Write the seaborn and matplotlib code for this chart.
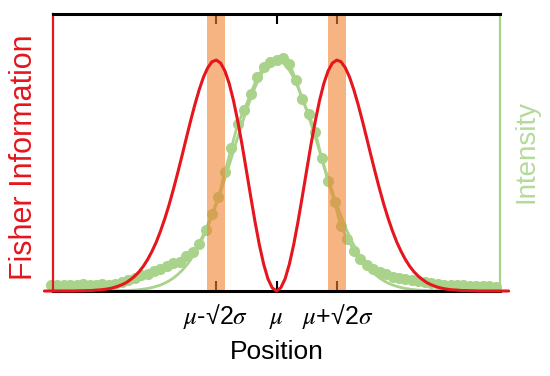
import matplotlib
matplotlib.use("Agg")
import matplotlib.pyplot as plt
import seaborn as sns

# positions in units of sigma, centred on mu (step 0.1)
curve_pos = [-5.4, -5.3, -5.2, -5.1, -5.0, -4.9, -4.8, -4.7, -4.6, -4.5, -4.4, -4.3, -4.2, -4.1,
             -4.0, -3.9, -3.8, -3.7, -3.6, -3.5, -3.4, -3.3, -3.2, -3.1, -3.0, -2.9, -2.8, -2.7,
             -2.6, -2.5, -2.4, -2.3, -2.2, -2.1, -2.0, -1.9, -1.8, -1.7, -1.6, -1.5, -1.4, -1.3,
             -1.2, -1.1, -1.0, -0.9, -0.8, -0.7, -0.6, -0.5, -0.4, -0.3, -0.2, -0.1,
             0.0, 0.1, 0.2, 0.3, 0.4, 0.5, 0.6, 0.7, 0.8, 0.9, 1.0, 1.1, 1.2, 1.3, 1.4, 1.5,
             1.6, 1.7, 1.8, 1.9, 2.0, 2.1, 2.2, 2.3, 2.4, 2.5, 2.6, 2.7, 2.8, 2.9, 3.0, 3.1,
             3.2, 3.3, 3.4, 3.5, 3.6, 3.7, 3.8, 3.9, 4.0, 4.1, 4.2, 4.3, 4.4, 4.5, 4.6, 4.7,
             4.8, 4.9, 5.0, 5.1, 5.2, 5.3, 5.4]

fisher_info = [0.0, 0.0, 0.0, 0.0, 0.0, 0.0, 0.0, 0.0, 0.001, 0.001, 0.002, 0.002, 0.004, 0.005,
               0.007, 0.010, 0.014, 0.020, 0.027, 0.036, 0.049, 0.064, 0.083, 0.107, 0.136, 0.171,
               0.211, 0.259, 0.313, 0.373, 0.440, 0.511, 0.585, 0.661, 0.736, 0.807, 0.871, 0.926,
               0.967, 0.993, 1.000, 0.987, 0.953, 0.898, 0.824, 0.734, 0.632, 0.521, 0.409, 0.300,
               0.201, 0.117, 0.053, 0.014,
               0.0, 0.014, 0.053, 0.117, 0.201, 0.300, 0.409, 0.521, 0.632, 0.734, 0.824, 0.898,
               0.953, 0.987, 1.000, 0.993, 0.967, 0.926, 0.871, 0.807, 0.736, 0.661, 0.585, 0.511,
               0.440, 0.373, 0.313, 0.259, 0.211, 0.171, 0.136, 0.107, 0.083, 0.064, 0.049, 0.036,
               0.027, 0.020, 0.014, 0.010, 0.007, 0.005, 0.004, 0.002, 0.002, 0.001, 0.001, 0.0,
               0.0, 0.0, 0.0, 0.0, 0.0, 0.0, 0.0]

gauss_fit = [0.0, 0.0, 0.0, 0.0, 0.0, 0.0, 0.0, 0.0, 0.0, 0.0, 0.0, 0.0, 0.0, 0.0,
             0.0, 0.0, 0.001, 0.001, 0.002, 0.002, 0.003, 0.004, 0.006, 0.008, 0.011, 0.015,
             0.020, 0.026, 0.034, 0.044, 0.056, 0.071, 0.089, 0.110, 0.135, 0.164, 0.198, 0.236,
             0.278, 0.325, 0.375, 0.430, 0.487, 0.546, 0.607, 0.667, 0.726, 0.783, 0.835, 0.882,
             0.923, 0.956, 0.980, 0.995,
             1.000, 0.995, 0.980, 0.956, 0.923, 0.882, 0.835, 0.783, 0.726, 0.667, 0.607, 0.546,
             0.487, 0.430, 0.375, 0.325, 0.278, 0.236, 0.198, 0.164, 0.135, 0.110, 0.089, 0.071,
             0.056, 0.044, 0.034, 0.026, 0.020, 0.015, 0.011, 0.008, 0.006, 0.004, 0.003, 0.002,
             0.002, 0.001, 0.001, 0.0, 0.0, 0.0, 0.0, 0.0, 0.0, 0.0, 0.0, 0.0,
             0.0, 0.0, 0.0, 0.0, 0.0, 0.0, 0.0]

# measured intensity profile
data_pos = [-5.25, -5.1, -4.95, -4.8, -4.65, -4.5, -4.35, -4.2, -4.05, -3.9, -3.75, -3.6, -3.45,
            -3.3, -3.15, -3.0, -2.85, -2.7, -2.55, -2.4, -2.25, -2.1, -1.95, -1.8, -1.65, -1.5,
            -1.35, -1.2, -1.05, -0.9, -0.75, -0.6, -0.45, -0.3, -0.15, 0.0, 0.15, 0.3, 0.45, 0.6,
            0.75, 0.9, 1.05, 1.2, 1.35, 1.5, 1.65, 1.8, 1.95, 2.1, 2.25, 2.4, 2.55, 2.7, 2.85,
            3.0, 3.15, 3.3, 3.45, 3.6, 3.75, 3.9, 4.05, 4.2, 4.35, 4.5, 4.65, 4.8, 4.95, 5.1]

data_int = [0.027, 0.026, 0.028, 0.025, 0.027, 0.029, 0.026, 0.028, 0.030, 0.027, 0.031, 0.038, 0.047,
            0.058, 0.068, 0.075, 0.086, 0.095, 0.108, 0.120, 0.125, 0.150, 0.170, 0.205, 0.265, 0.335,
            0.405, 0.515, 0.620, 0.725, 0.785, 0.855, 0.925, 0.970, 0.993, 1.000, 1.010, 0.985, 0.915,
            0.830, 0.765, 0.690, 0.575, 0.475, 0.385, 0.280, 0.225, 0.175, 0.140, 0.112, 0.094, 0.082,
            0.072, 0.062, 0.056, 0.050, 0.047, 0.043, 0.039, 0.034, 0.031, 0.028, 0.027, 0.025, 0.024,
            0.022, 0.023, 0.021, 0.020, 0.019]

tick_pos = [-1.414, 0.0, 1.414]
tick_labels = [r"$\mu$-√2$\sigma$", r"$\mu$", r"$\mu$+√2$\sigma$"]
band_centres = [-1.414, 1.414]

RED = "#e5161d"
GREEN = "#a9d38a"
ORANGE = "#f0822f"

sns.set_style("white")
plt.rcParams["font.family"] = ["Liberation Sans", "DejaVu Sans"]
plt.rcParams["mathtext.fontset"] = "stix"

fig = plt.figure(figsize=(5.5, 3.76), dpi=100)
ax = fig.add_axes([0.0964, 0.226, 0.8127, 0.737])

# fitted gaussian and measured points
sns.lineplot(x=curve_pos, y=gauss_fit, ax=ax, color=GREEN, linewidth=2.0, zorder=1.8)
sns.lineplot(x=data_pos, y=data_int, ax=ax, color=GREEN, linewidth=2.0, marker="o",
             markersize=8, markeredgewidth=0, sort=False, estimator=None, zorder=2, clip_on=False)

for c in band_centres:
    ax.axvspan(c - 0.21, c + 0.21, color=ORANGE, alpha=0.6, lw=0, zorder=2.2)

sns.lineplot(x=curve_pos, y=fisher_info, ax=ax, color=RED, linewidth=2.2, zorder=3, clip_on=False)

ax.set_xlim(-5.2, 5.2)
ax.set_ylim(0, 1.2)
ax.set_axisbelow(True)

ax.set_xticks(tick_pos)
ax.set_xticklabels(tick_labels, fontsize=18, color="black", va="baseline")
ax.set_yticks([])
ax.tick_params(axis="x", direction="in", top=True, bottom=True, length=7, width=1.5,
               pad=24, color="black")

for side in ["top", "bottom"]:
    ax.spines[side].set_color("black")
    ax.spines[side].set_linewidth(2.2)
ax.spines["left"].set_color(RED)
ax.spines["left"].set_linewidth(1.6)
ax.spines["right"].set_color(GREEN)
ax.spines["right"].set_linewidth(1.6)

ax.set_xlabel("Position", fontsize=19, color="black", labelpad=6)
ax.set_ylabel("Fisher Information", fontsize=22, color=RED)
ax.yaxis.set_label_coords(-0.032, 0.484)
ax.text(1.06, 0.505, "Intensity", transform=ax.transAxes, rotation=90, fontsize=20,
        color="#b6d99c", ha="center", va="center")

fig.savefig("out.png", dpi=100)
